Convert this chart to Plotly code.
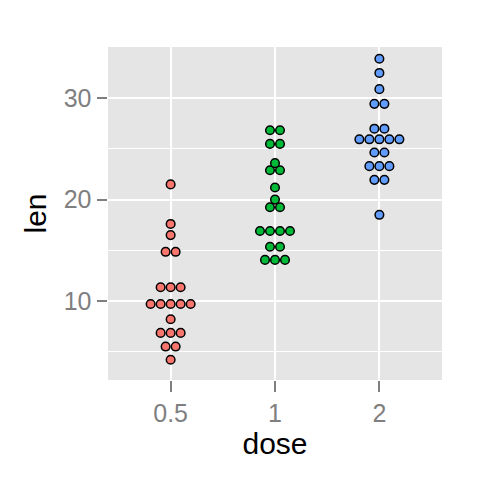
import plotly.graph_objects as go

# Data: dotplot bin centres (len) and dot counts per dose
doses = ["0.5", "1", "2"]
len_05 = [4.2, 5.5, 6.85, 8.2, 9.7, 11.35, 14.85, 16.5, 17.6, 21.5]
cnt_05 = [1, 2, 3, 1, 5, 3, 2, 1, 1, 1]
len_1 = [14.05, 15.35, 16.9, 19.25, 20.0, 21.2, 22.9, 23.6, 25.5, 26.85]
cnt_1 = [3, 2, 4, 2, 1, 1, 2, 1, 2, 2]
len_2 = [18.5, 21.95, 23.3, 24.65, 25.95, 27.0, 29.45, 30.9, 32.5, 33.9]
cnt_2 = [1, 2, 3, 2, 5, 2, 2, 1, 1, 1]
colors = ["#F8766D", "#00BA38", "#619CFF"]
y_ticks = [10, 20, 30]

# page body adds an 8px offset, so the figure is 472x472 placed at (8, 8)
W, H = 472, 472
ML, MR, MT, MB = 100, 38, 39, 100
XR = [-0.6, 2.6]
YR = [2.2, 35.06]
DOT_PX = 10.0
px_per_x = (W - ML - MR) / (XR[1] - XR[0])
dot_dx = DOT_PX / px_per_x

fig = go.Figure()
for k, (ys, cs) in enumerate([(len_05, cnt_05), (len_1, cnt_1), (len_2, cnt_2)]):
    xs, yy = [], []
    for y, n in zip(ys, cs):
        for i in range(n):
            xs.append(k + (i - (n - 1) / 2) * dot_dx)
            yy.append(y)
    fig.add_trace(go.Scatter(
        x=xs, y=yy, mode="markers",
        marker=dict(size=8.6, color=colors[k], line=dict(color="black", width=1.5)),
        showlegend=False, hoverinfo="skip", cliponaxis=False,
    ))

tickfont = dict(family="Liberation Sans, Arial", size=25, color="#7F7F7F")
titlefont = dict(family="Liberation Sans, Arial", size=30, color="black")

fig.update_layout(
    width=W, height=H,
    margin=dict(l=ML, r=MR, t=MT, b=MB, pad=0),
    paper_bgcolor="white", plot_bgcolor="#E5E5E5",
    xaxis=dict(
        range=XR, tickmode="array", tickvals=[0, 1, 2], ticktext=doses,
        showgrid=True, gridcolor="white", gridwidth=2.2, zeroline=False,
        ticks="outside", ticklen=10.5, tickwidth=2, tickcolor="#7F7F7F",
        tickfont=tickfont, showline=False,
        title=dict(text="dose", font=titlefont, standoff=4),
    ),
    yaxis=dict(
        range=YR, tickmode="array", tickvals=y_ticks,
        showgrid=True, gridcolor="white", gridwidth=2.2, zeroline=False,
        ticks="outside", ticklen=10.5, tickwidth=2, tickcolor="#7F7F7F",
        tickfont=tickfont, showline=False,
        minor=dict(tickmode="linear", tick0=0, dtick=5, showgrid=True,
                   gridcolor="white", gridwidth=1.1, ticks=""),
        title=dict(text="len", font=titlefont, standoff=8),
    ),
)

fig.write_html("out.html")
